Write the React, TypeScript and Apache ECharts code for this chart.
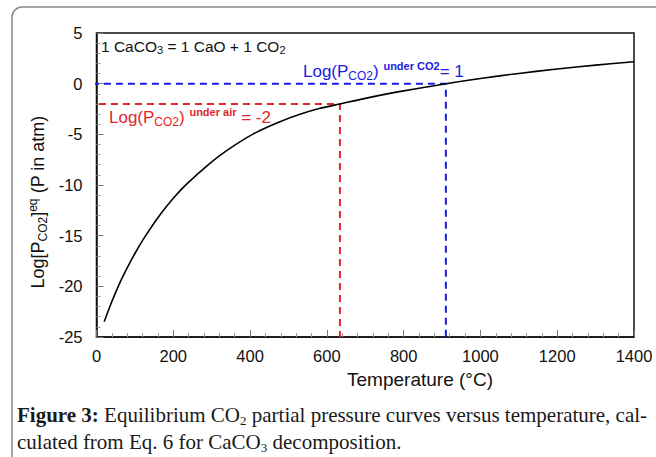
import React, { useEffect, useRef } from "react";
import * as echarts from "echarts";

// Equilibrium curve
const temperatures = [20, 40, 55, 70, 100, 128, 165, 200, 236, 290, 340, 411, 478, 530, 580, 634, 700, 800, 910, 1000, 1100, 1200, 1300, 1400];
const logPressure = [-23.5, -21.5, -20.15, -18.92, -16.76, -15.0, -12.96, -11.31, -9.87, -8.03, -6.58, -4.91, -3.75, -3.02, -2.46, -2.0, -1.45, -0.71, 0, 0.51, 1.01, 1.45, 1.83, 2.16];

// Reference levels
const airLog = -2;
const airTemp = 634;
const co2Log = 0;
const co2Temp = 910;

const xMin = 0;
const xMax = 1400;
const xStep = 200;
const yMin = -25;
const yMax = 5;
const yStep = 5;

const SANS = "'Liberation Sans', Arial, sans-serif";
const SERIF = "'Liberation Serif', 'Times New Roman', serif";
const BLUE = "#1c1ce0";
const RED = "#e3262a";

export default function App() {
  const ref = useRef<HTMLDivElement>(null);

  useEffect(() => {
    if (!ref.current) return;
    const chart = echarts.init(ref.current, undefined, { renderer: "svg" });

    const curve = temperatures.map((t, i) => [t, logPressure[i]]);
    const redLine = [
      [xMin - 25, airLog],
      [airTemp, airLog],
      [airTemp, yMin],
    ];
    const blueLine = [
      [xMin - 12, co2Log],
      [co2Temp, co2Log],
      [co2Temp, yMin],
    ];

    const richMain = (fill: string, size: number) => ({
      n: { fontSize: size, fontFamily: SANS, fill, lineHeight: size + 4, verticalAlign: "middle" },
      s: { fontSize: Math.round(size * 0.68), fontFamily: SANS, fill, lineHeight: Math.round(size * 0.68), verticalAlign: "bottom" },
      p: { fontSize: Math.round(size * 0.66), fontFamily: SANS, fill, fontWeight: "bold", lineHeight: Math.round(size * 0.66), verticalAlign: "top" },
    });

    const serifRich = {
      b: { fontSize: 21, fontFamily: SERIF, fontWeight: "bold", fill: "#1a1a1a", lineHeight: 24, verticalAlign: "middle" },
      r: { fontSize: 21, fontFamily: SERIF, fill: "#1a1a1a", lineHeight: 24, verticalAlign: "middle" },
      s: { fontSize: 13, fontFamily: SERIF, fill: "#1a1a1a", lineHeight: 13, verticalAlign: "bottom" },
    };

    const axisCommon = {
      type: "value",
      splitLine: { show: false },
      minorSplitLine: { show: false },
      axisTick: { show: true, inside: true, length: 7, lineStyle: { color: "#777", width: 1 } },
      minorTick: { show: true, splitNumber: 5, length: 4, lineStyle: { color: "#999", width: 1 } },
      axisLine: { show: true, onZero: false, lineStyle: { color: "#111", width: 1.5 } },
    };

    chart.setOption({
      animation: false,
      backgroundColor: "#fff",
      grid: {
        left: 96.5,
        right: 22,
        top: 33,
        bottom: 120,
        show: true,
        borderColor: "#111",
        borderWidth: 1.5,
        backgroundColor: "transparent",
      },
      xAxis: {
        ...axisCommon,
        min: xMin,
        max: xMax,
        interval: xStep,
        axisLabel: {
          fontSize: 16.5,
          fontFamily: SANS,
          color: "#111",
          margin: 10,
          formatter: (v: number) => String(v),
        },
      },
      yAxis: {
        ...axisCommon,
        min: yMin,
        max: yMax,
        interval: yStep,
        axisLabel: {
          fontSize: 16.5,
          fontFamily: SANS,
          color: "#111",
          margin: 14,
          formatter: (v: number) => String(v),
        },
      },
      series: [
        {
          type: "line",
          data: redLine,
          symbol: "none",
          clip: false,
          lineStyle: { color: RED, width: 2, type: [7, 5] },
          z: 2,
        },
        {
          type: "line",
          data: blueLine,
          symbol: "none",
          clip: false,
          lineStyle: { color: BLUE, width: 2, type: [7, 5] },
          z: 2,
        },
        {
          type: "line",
          data: curve,
          symbol: "none",
          smooth: 0.35,
          lineStyle: { color: "#000", width: 1.6 },
          z: 3,
        },
      ],
      graphic: [
        {
          type: "rect",
          shape: { x: 12, y: 7, width: 680, height: 480, r: 10 },
          style: { fill: "none", stroke: "#888", lineWidth: 1.5 },
          silent: true,
        },
        {
          type: "text",
          x: 101,
          y: 46,
          style: {
            text: "{n|1 CaCO}{s|3}{n| = 1 CaO + 1 CO}{s|2}",
            rich: richMain("#111", 15.5),
            verticalAlign: "middle",
          },
        },
        {
          type: "text",
          x: 303,
          y: 71,
          style: {
            text: "{n|Log(P}{s|CO2}{n|) }{p|under CO2}{n|= 1}",
            rich: richMain(BLUE, 17),
            verticalAlign: "middle",
          },
        },
        {
          type: "text",
          x: 109,
          y: 117,
          style: {
            text: "{n|Log(P}{s|CO2}{n|) }{p|under air}{n| = -2}",
            rich: richMain(RED, 17),
            verticalAlign: "middle",
          },
        },
        {
          type: "text",
          x: 38,
          y: 202,
          rotation: Math.PI / 2,
          style: {
            text: "{n|Log[P}{s|CO2}{n|]}{q|eq}{n| (P in atm)}",
            rich: {
              ...richMain("#111", 18),
              q: { fontSize: 12, fontFamily: SANS, fill: "#111", lineHeight: 12, verticalAlign: "top" },
            },
            align: "center",
            verticalAlign: "middle",
          },
        },
        {
          type: "text",
          x: 420,
          y: 379,
          style: {
            text: "Temperature (°C)",
            font: `19px ${SANS}`,
            fill: "#111",
            align: "center",
            verticalAlign: "middle",
          },
        },
        {
          type: "text",
          x: 17,
          y: 415,
          style: {
            text: "{b|Figure 3:}{r| Equilibrium CO}{s|2}{r| partial pressure curves versus temperature, cal-}",
            rich: serifRich,
            verticalAlign: "middle",
          },
        },
        {
          type: "text",
          x: 17,
          y: 442,
          style: {
            text: "{r|culated from Eq. 6 for CaCO}{s|3}{r| decomposition.}",
            rich: serifRich,
            verticalAlign: "middle",
          },
        },
      ],
    });

    return () => {
      chart.dispose();
    };
  }, []);

  return (
    <div
      ref={ref}
      style={{ position: "absolute", left: 0, top: 0, width: 656, height: 457, background: "#fff" }}
    />
  );
}
